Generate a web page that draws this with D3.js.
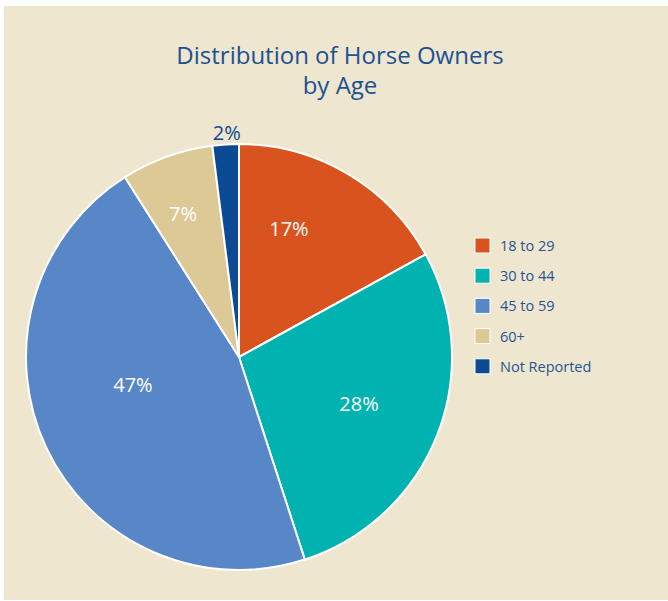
<!DOCTYPE html>
<html>
<head>
<meta charset="utf-8">
<script src="https://cdn.jsdelivr.net/npm/d3@7"></script>
<style>
  body { margin: 0; background: #fff; }
  text { font-family: "Open Sans", "Noto Sans", sans-serif; }
</style>
</head>
<body>
<svg width="668" height="601"></svg>
<script>
const categories = ['18 to 29', '30 to 44', '45 to 59', '60+', 'Not Reported'];
const values = [17, 28, 46, 7, 2];
const labels = ['17%', '28%', '47%', '7%', '2%'];
const colors = ['#d9531e', '#00b2b0', '#5887c7', '#dcc995', '#0c4a94'];

const svg = d3.select('svg');
const width = +svg.attr('width');
const height = +svg.attr('height');

svg.append('rect')
    .attr('x', 4).attr('y', 6)
    .attr('width', width - 4).attr('height', height - 7)
    .attr('fill', '#efe6cf');

const title = svg.append('text')
    .attr('x', 340).attr('y', 64)
    .attr('text-anchor', 'middle')
    .attr('fill', '#1c5192')
    .style('font-size', '24px');
title.append('tspan').attr('x', 340).text('Distribution of Horse Owners');
title.append('tspan').attr('x', 340).attr('dy', 30).text('by Age');

const radius = 213;
const g = svg.append('g').attr('transform', 'translate(239, 357)');

const pie = d3.pie().sort(null).value(d => d);
const arcs = pie(values);
const arc = d3.arc().innerRadius(0).outerRadius(radius);

g.selectAll('path')
    .data(arcs)
    .enter()
    .append('path')
    .attr('d', arc)
    .attr('fill', (d, i) => colors[i])
    .attr('stroke', '#fff')
    .attr('stroke-width', 2);

// label placement: radius factor and angle shift (degrees) from slice middle
const labelR = [0.645, 0.605, 0.515, 0.72, 1.055];
const labelShift = [-9.3, -0.2, 10.4, -1.6, 0.5];
g.selectAll('.lbl')
    .data(arcs)
    .enter()
    .append('text')
    .attr('class', 'lbl')
    .attr('transform', (d, i) => {
        const a = (d.startAngle + d.endAngle) / 2 + labelShift[i] * Math.PI / 180;
        const r = radius * labelR[i];
        return `translate(${Math.sin(a) * r}, ${-Math.cos(a) * r})`;
    })
    .attr('text-anchor', 'middle')
    .attr('dy', '0.35em')
    .attr('fill', (d, i) => i === 4 ? '#0c4a94' : '#fff')
    .style('font-size', '20px')
    .text((d, i) => labels[i]);

const legend = svg.append('g').attr('transform', 'translate(475, 238)');
const rows = legend.selectAll('g')
    .data(categories)
    .enter()
    .append('g')
    .attr('transform', (d, i) => `translate(0, ${i * 30.2})`);

rows.append('rect')
    .attr('width', 15).attr('height', 15)
    .attr('fill', (d, i) => colors[i])
    .attr('stroke', '#fff')
    .attr('stroke-width', 1);

rows.append('text')
    .attr('x', 25).attr('y', 8)
    .attr('dy', '0.35em')
    .attr('fill', '#1f5596')
    .style('font-size', '14.5px')
    .text(d => d);
</script>
</body>
</html>
